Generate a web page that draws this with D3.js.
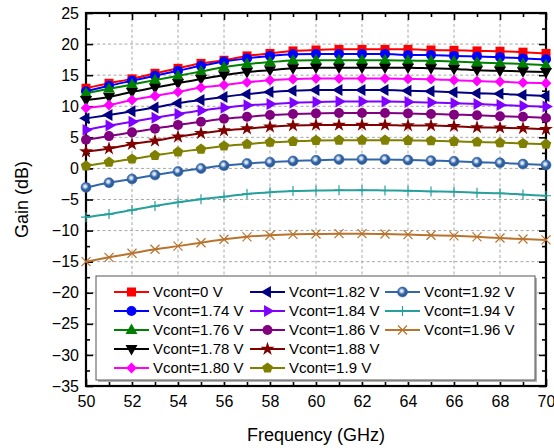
<!DOCTYPE html>
<html>
<head>
<meta charset="utf-8">
<script src="https://cdn.jsdelivr.net/npm/d3@7/dist/d3.min.js"></script>
<style>
  html, body { margin: 0; padding: 0; background: #fff; }
  svg { display: block; font-family: "Liberation Sans", Arial, sans-serif; }
</style>
</head>
<body>
<svg id="chart" width="554" height="448"></svg>
<script>
// Gain versus frequency for each control voltage
const freq = [50,51,52,53,54,55,56,57,58,59,60,61,62,63,64,65,66,67,68,69,70];

const labels = ["Vcont=0 V","Vcont=1.74 V","Vcont=1.76 V","Vcont=1.78 V","Vcont=1.80 V",
                "Vcont=1.82 V","Vcont=1.84 V","Vcont=1.86 V","Vcont=1.88 V","Vcont=1.9 V",
                "Vcont=1.92 V","Vcont=1.94 V","Vcont=1.96 V"];

const gV0   = [12.9,13.7,14.4,15.3,16.1,16.9,17.4,18.1,18.5,18.9,19.05,19.15,19.15,19.15,19.15,19.05,19.0,18.9,18.85,18.7,18.5];
const gV174 = [12.4,13.3,14.1,14.9,15.7,16.5,17.2,17.7,18.1,18.35,18.4,18.4,18.4,18.4,18.25,18.25,18.1,18.0,17.9,17.7,17.55];
const gV176 = [12.1,12.8,13.5,14.2,14.9,15.6,16.3,16.8,17.1,17.35,17.4,17.4,17.4,17.4,17.35,17.3,17.2,17.05,16.9,16.8,16.6];
const gV178 = [11.0,11.5,12.3,13.0,13.7,14.4,15.0,15.5,15.8,16.1,16.2,16.2,16.2,16.2,16.2,16.1,16.0,15.8,15.7,15.6,15.5];
const gV180 = [9.7,10.2,11.0,11.65,12.3,13.0,13.4,13.85,14.2,14.35,14.45,14.45,14.45,14.45,14.4,14.35,14.2,14.05,13.95,13.8,13.7];
const gV182 = [8.05,8.6,9.2,9.8,10.5,11.0,11.5,11.95,12.3,12.5,12.6,12.6,12.6,12.6,12.5,12.4,12.25,12.1,12.0,11.8,11.65];
const gV184 = [6.2,6.9,7.5,8.15,8.75,9.3,9.75,10.15,10.35,10.55,10.7,10.75,10.75,10.75,10.7,10.6,10.5,10.35,10.2,10.05,9.95];
const gV186 = [4.6,5.2,5.8,6.4,7.0,7.5,8.0,8.3,8.6,8.75,8.85,8.9,8.9,8.9,8.85,8.75,8.65,8.55,8.4,8.3,8.1];
const gV188 = [2.7,3.2,3.9,4.45,5.1,5.65,6.1,6.4,6.7,6.9,7.0,7.0,7.0,7.0,6.9,6.9,6.8,6.6,6.55,6.45,6.3];
const gV190 = [0.4,1.0,1.5,2.1,2.65,3.1,3.6,3.9,4.2,4.35,4.5,4.55,4.55,4.55,4.5,4.45,4.35,4.25,4.15,4.0,3.9];
const gV192 = [-3.05,-2.3,-1.7,-1.05,-0.5,0.0,0.45,0.8,1.0,1.2,1.3,1.45,1.45,1.45,1.35,1.25,1.15,1.0,0.9,0.7,0.55];
const gV194 = [-7.85,-7.35,-6.7,-6.05,-5.45,-4.95,-4.55,-4.1,-3.85,-3.65,-3.55,-3.5,-3.5,-3.55,-3.6,-3.7,-3.75,-3.9,-4.0,-4.2,-4.4];
const gV196 = [-15.0,-14.3,-13.65,-13.0,-12.5,-11.95,-11.4,-11.0,-10.75,-10.6,-10.55,-10.5,-10.5,-10.55,-10.65,-10.75,-10.85,-11.0,-11.2,-11.35,-11.5];

const gains = [gV0,gV174,gV176,gV178,gV180,gV182,gV184,gV186,gV188,gV190,gV192,gV194,gV196];

const xTicks = [50,52,54,56,58,60,62,64,66,68,70];
const yTicks = [-35,-30,-25,-20,-15,-10,-5,0,5,10,15,20,25];

const colors = ["#ff0000","#0000ff","#008000","#000000","#ff00ff","#000080","#8000ff",
                "#800080","#800000","#808000","#3366a8","#27a09c","#b8742e"];
const shapes = ["square","circle","triUp","triDown","diamond","triLeft","triRight",
                "circle","star","pentagon","ball","plus","cross"];

const svg = d3.select("#chart");
const M = {left: 86, right: 546, top: 13, bottom: 386};

const x = d3.scaleLinear().domain([50, 70]).range([M.left, M.right]);
const y = d3.scaleLinear().domain([-35, 25]).range([M.bottom, M.top]);

// ball marker gradient
const defs = svg.append("defs");
const grad = defs.append("radialGradient").attr("id", "ballGrad")
  .attr("cx", "0.42").attr("cy", "0.4").attr("r", "0.6");
grad.append("stop").attr("offset", "0%").attr("stop-color", "#ffffff");
grad.append("stop").attr("offset", "22%").attr("stop-color", "#c8d8ee");
grad.append("stop").attr("offset", "55%").attr("stop-color", "#3366a8");
grad.append("stop").attr("offset", "100%").attr("stop-color", "#2a5590");

// grid
const grid = svg.append("g").attr("stroke", "#a8a8a8").attr("stroke-width", 1)
  .attr("stroke-dasharray", "3,2.5");
xTicks.slice(1, -1).forEach(t => {
  grid.append("line").attr("x1", x(t)).attr("x2", x(t)).attr("y1", M.top).attr("y2", M.bottom);
});
yTicks.slice(1, -1).forEach(t => {
  grid.append("line").attr("x1", M.left).attr("x2", M.right).attr("y1", y(t)).attr("y2", y(t));
});

// axes with inward ticks
const minorX = d3.range(51, 70, 2);
const minorY = d3.range(-32.5, 25, 5);

const axB = svg.append("g").attr("transform", `translate(0,${M.bottom})`)
  .call(d3.axisBottom(x).tickValues(xTicks).tickSize(-7).tickPadding(10).tickFormat(d3.format("d")));
axB.append("g").call(d3.axisBottom(x).tickValues(minorX).tickSize(-4).tickFormat(""));

const axL = svg.append("g").attr("transform", `translate(${M.left},0)`)
  .call(d3.axisLeft(y).tickValues(yTicks).tickSize(-7).tickPadding(7).tickFormat(d3.format("d")));
axL.append("g").call(d3.axisLeft(y).tickValues(minorY).tickSize(-4).tickFormat(""));

const axR = svg.append("g").attr("transform", `translate(${M.right},0)`)
  .call(d3.axisRight(y).tickValues(yTicks).tickSize(-7).tickFormat(""));
axR.append("g").call(d3.axisRight(y).tickValues(minorY).tickSize(-4).tickFormat(""));

const axT = svg.append("g").attr("transform", `translate(0,${M.top})`)
  .call(d3.axisTop(x).tickValues(xTicks).tickSize(-7).tickFormat(""));
axT.append("g").call(d3.axisTop(x).tickValues(minorX).tickSize(-4).tickFormat(""));

[axB, axL, axR, axT].forEach(a => {
  a.selectAll(".tick line").attr("stroke", "#000").attr("stroke-width", 1.6);
  a.selectAll("path.domain").attr("d", null);
  a.selectAll("text").attr("font-size", 16).attr("fill", "#000")
    .attr("font-family", "Liberation Sans, Arial, sans-serif");
});
// frame
svg.append("rect").attr("x", M.left).attr("y", M.top)
  .attr("width", M.right - M.left).attr("height", M.bottom - M.top)
  .attr("fill", "none").attr("stroke", "#000").attr("stroke-width", 2.2);

// axis titles
svg.append("text").attr("x", (M.left + M.right) / 2).attr("y", 441)
  .attr("text-anchor", "middle").attr("font-size", 18).text("Frequency (GHz)");
svg.append("text").attr("transform", `translate(28,${(M.top + M.bottom) / 2}) rotate(-90)`)
  .attr("text-anchor", "middle").attr("font-size", 18).text("Gain (dB)");

// marker drawing
function drawMarker(g, shape, color, cx, cy) {
  const t = `translate(${cx},${cy})`;
  const tri = d3.symbol().type(d3.symbolTriangle).size(62)();
  switch (shape) {
    case "square":
      g.append("rect").attr("x", cx - 4.5).attr("y", cy - 4.5).attr("width", 9).attr("height", 9).attr("fill", color); break;
    case "circle":
      g.append("circle").attr("cx", cx).attr("cy", cy).attr("r", 5).attr("fill", color); break;
    case "ball":
      g.append("circle").attr("cx", cx).attr("cy", cy).attr("r", 5).attr("fill", "url(#ballGrad)")
        .attr("stroke", "#3366a8").attr("stroke-width", 0.6); break;
    case "triUp":
      g.append("path").attr("d", tri).attr("transform", t + " translate(0,0.5)").attr("fill", color); break;
    case "triDown":
      g.append("path").attr("d", tri).attr("transform", t + " rotate(180) translate(0,0.5)").attr("fill", color); break;
    case "triLeft":
      g.append("path").attr("d", tri).attr("transform", t + " rotate(-90)").attr("fill", color); break;
    case "triRight":
      g.append("path").attr("d", tri).attr("transform", t + " rotate(90)").attr("fill", color); break;
    case "diamond":
      g.append("path").attr("d", d3.symbol().type(d3.symbolSquare).size(58)())
        .attr("transform", t + " rotate(45)").attr("fill", color); break;
    case "star":
      g.append("path").attr("d", d3.symbol().type(d3.symbolStar).size(60)()).attr("transform", t).attr("fill", color); break;
    case "pentagon": {
      const r = 5.6;
      const pts = d3.range(5).map(i => {
        const a = -Math.PI / 2 + i * 2 * Math.PI / 5;
        return [r * Math.cos(a), r * Math.sin(a)];
      });
      g.append("path").attr("d", "M" + pts.join("L") + "Z").attr("transform", t).attr("fill", color); break;
    }
    case "plus":
      g.append("path").attr("d", "M-5,0H5M0,-5V5").attr("transform", t)
        .attr("stroke", color).attr("stroke-width", 1.2).attr("fill", "none"); break;
    case "cross":
      g.append("path").attr("d", "M-4.5,-4.5L4.5,4.5M-4.5,4.5L4.5,-4.5").attr("transform", t)
        .attr("stroke", color).attr("stroke-width", 1.2).attr("fill", "none"); break;
  }
}

// series
const line = d3.line().x((d, i) => x(freq[i])).y(d => y(d)).curve(d3.curveMonotoneX);
const plot = svg.append("g");
gains.forEach((vals, k) => {
  const g = plot.append("g");
  g.append("path").attr("d", line(vals)).attr("fill", "none")
    .attr("stroke", colors[k]).attr("stroke-width", 2);
  vals.forEach((v, i) => drawMarker(g, shapes[k], colors[k], x(freq[i]), y(v)));
});

// legend
const lg = svg.append("g");
lg.append("rect").attr("x", 98).attr("y", 278).attr("width", 439).attr("height", 104)
  .attr("fill", "#b0b0b0");
lg.append("rect").attr("x", 96).attr("y", 276).attr("width", 439).attr("height", 104)
  .attr("fill", "#fff").attr("stroke", "#555").attr("stroke-width", 1);

const colX = [114, 250, 385];
const rowY0 = 292, rowDY = 19;
labels.forEach((lab, k) => {
  const col = Math.floor(k / 5), row = k % 5;
  const lx = colX[col], ly = rowY0 + row * rowDY;
  const g = lg.append("g");
  g.append("line").attr("x1", lx).attr("x2", lx + 35).attr("y1", ly).attr("y2", ly)
    .attr("stroke", colors[k]).attr("stroke-width", 2);
  drawMarker(g, shapes[k], colors[k], lx + 17.5, ly);
  g.append("text").attr("x", lx + 39).attr("y", ly).attr("dy", "0.36em")
    .attr("font-size", 15).attr("fill", "#000").text(lab);
});
</script>
</body>
</html>
